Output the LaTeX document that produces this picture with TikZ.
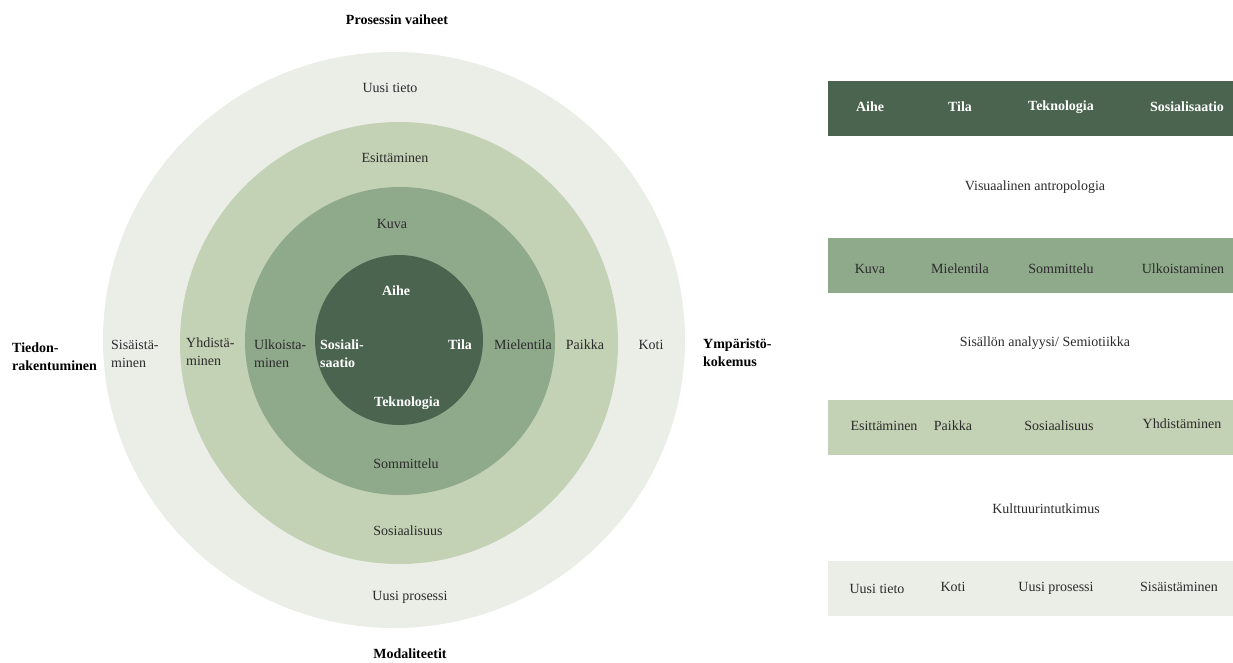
\documentclass[tikz,border=0pt]{standalone}
\usepackage{fontspec}
\setmainfont{Liberation Serif}
\definecolor{ringA}{HTML}{EBEDE7}
\definecolor{ringB}{HTML}{C3D1B4}
\definecolor{ringC}{HTML}{8FA98B}
\definecolor{ringD}{HTML}{4B644F}
\definecolor{txt}{HTML}{2B2B2B}
\begin{document}
\begin{tikzpicture}[x=1pt,y=-1pt,
  lbl/.style={font=\fontsize{14}{18}\selectfont, text=txt, inner sep=0pt, align=center},
  lblw/.style={font=\fontsize{14}{18}\selectfont\bfseries, text=white, inner sep=0pt, align=center},
  head/.style={font=\fontsize{14}{18}\selectfont\bfseries, text=black, inner sep=0pt, align=center},
  twoline/.style={anchor=west, align=left},
  band/.style={inner sep=0pt, minimum height=55pt, minimum width=405pt, anchor=north west}]
\useasboundingbox (0,0) rectangle (1233,662);

% concentric rings
\fill[ringA] (394,340) ellipse [x radius=291, y radius=288];
\fill[ringB] (399,343) ellipse [x radius=219, y radius=221];
\fill[ringC] (400,341) ellipse [x radius=155, y radius=154];
\fill[ringD] (399,340) ellipse [x radius=84, y radius=85];

% axis titles
\node[head] (top) at (397,20) {Prosessin vaiheet};
\node[head] (bottom) at (410,654) {Modaliteetit};
\node[head, twoline] (left) at (12,357) {Tiedon-\\rakentuminen};
\node[head, twoline] (right) at (703,353) {Ympäristö-\\kokemus};

% outer ring
\node[lbl] (uusitieto) at (390,88) {Uusi tieto};
\node[lbl] (uusiprosessi) at (410,597) {Uusi prosessi};
\node[lbl] (koti) at (651,345) {Koti};
\node[lbl, twoline] (sisaista) at (111,354) {Sisäistä-\\minen};

% second ring
\node[lbl] (esittaminen) at (395,158) {Esittäminen};
\node[lbl] (sosiaalisuus) at (408,531) {Sosiaalisuus};
\node[lbl] (paikka) at (585,345) {Paikka};
\node[lbl, twoline] (yhdista) at (186,352) {Yhdistä-\\minen};

% third ring
\node[lbl] (kuva) at (392,224) {Kuva};
\node[lbl] (sommittelu) at (406,464) {Sommittelu};
\node[lbl] (mielentila) at (523,345) {Mielentila};
\node[lbl, twoline] (ulkoista) at (254,354) {Ulkoista-\\minen};

% core
\node[lblw] (aihe) at (396,291) {Aihe};
\node[lblw] (teknologia) at (407,403) {Teknologia};
\node[lblw] (tila) at (460,345) {Tila};
\node[lblw, twoline] (sosiali) at (320,354) {Sosiali-\\saatio};

% bands on the right
\node[band, fill=ringD] (b1) at (828,81) {};
\node[band, fill=ringC] (b2) at (828,238) {};
\node[band, fill=ringB] (b3) at (828,400) {};
\node[band, fill=ringA] (b4) at (828,561) {};

\node[lblw] (t1a) at (870,107) {Aihe};
\node[lblw] (t1b) at (960,107) {Tila};
\node[lblw] (t1c) at (1061,107) {Teknologia};
\node[lblw] (t1d) at (1187,107) {Sosialisaatio};

\node[lbl] (m1) at (1035,187) {Visuaalinen antropologia};

\node[lbl] (t2a) at (870,269) {Kuva};
\node[lbl] (t2b) at (960,269) {Mielentila};
\node[lbl] (t2c) at (1061,269) {Sommittelu};
\node[lbl] (t2d) at (1183,269) {Ulkoistaminen};

\node[lbl] (m2) at (1045,343) {Sisällön analyysi/ Semiotiikka};

\node[lbl] (t3a) at (884,426) {Esittäminen};
\node[lbl] (t3b) at (953,426) {Paikka};
\node[lbl] (t3c) at (1059,426) {Sosiaalisuus};
\node[lbl] (t3d) at (1182,424) {Yhdistäminen};

\node[lbl] (m3) at (1046,509) {Kulttuurintutkimus};

\node[lbl] (t4a) at (877,589) {Uusi tieto};
\node[lbl] (t4b) at (953,587) {Koti};
\node[lbl] (t4c) at (1056,588) {Uusi prosessi};
\node[lbl] (t4d) at (1179,587) {Sisäistäminen};
\end{tikzpicture}
\end{document}
